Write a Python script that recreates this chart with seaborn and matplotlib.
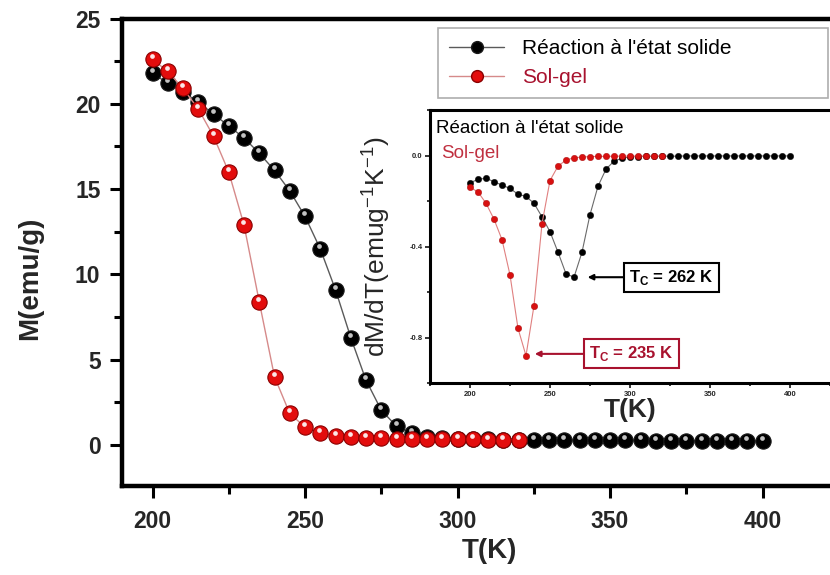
import numpy as np
import pandas as pd
import matplotlib
matplotlib.use('Agg')
import matplotlib.pyplot as plt
import matplotlib.transforms as mtransforms
from matplotlib.lines import Line2D
from matplotlib.ticker import MultipleLocator, FixedLocator, FixedFormatter
import seaborn as sns

# ---------------- data ----------------
T_solid = [200, 205, 210, 215, 220, 225, 230, 235, 240, 245, 250, 255, 260, 265, 270,
           275, 280, 285, 290, 295, 300, 305, 310, 315, 320, 325, 330, 335, 340, 345,
           350, 355, 360, 365, 370, 375, 380, 385, 390, 395, 400]
M_solid = [21.8, 21.2, 20.7, 20.1, 19.4, 18.7, 18.0, 17.1, 16.1, 14.9, 13.4, 11.5, 9.1, 6.3, 3.8,
           2.05, 1.1, 0.7, 0.5, 0.42, 0.38, 0.35, 0.33, 0.32, 0.31, 0.3, 0.3, 0.29, 0.29, 0.28,
           0.28, 0.27, 0.27, 0.26, 0.26, 0.25, 0.25, 0.25, 0.24, 0.24, 0.24]
T_solgel = [200, 205, 210, 215, 220, 225, 230, 235, 240, 245, 250, 255, 260, 265, 270,
            275, 280, 285, 290, 295, 300, 305, 310, 315, 320]
M_solgel = [22.6, 21.9, 20.9, 19.7, 18.1, 16.0, 12.9, 8.4, 4.0, 1.85, 1.05, 0.72, 0.55, 0.47, 0.42,
            0.39, 0.37, 0.36, 0.35, 0.34, 0.33, 0.33, 0.32, 0.32, 0.31]
dMdT_solid = [-0.12, -0.105, -0.10, -0.115, -0.13, -0.145, -0.17, -0.18, -0.21, -0.27, -0.335,
              -0.425, -0.52, -0.535, -0.425, -0.26, -0.135, -0.06, -0.025, -0.012, -0.006,
              -0.005, -0.004, -0.004, -0.003, -0.003, -0.003, -0.002, -0.002, -0.002, -0.002,
              -0.002, -0.002, -0.002, -0.002, -0.002, -0.002, -0.002, -0.002, -0.002, -0.002]
dMdT_solgel = [-0.14, -0.16, -0.21, -0.28, -0.37, -0.525, -0.76, -0.88, -0.66, -0.30, -0.11,
               -0.047, -0.02, -0.01, -0.007, -0.005, -0.004, -0.004, -0.003, -0.003, -0.003,
               -0.002, -0.002, -0.002, -0.002]
series_labels = ["Réaction à l'état solide", "Sol-gel"]
main_xticks = [200, 250, 300, 350, 400]
main_yticks = [0, 5, 10, 15, 20, 25]
inset_xticks = [200, 250, 300, 350, 400]
inset_yticks = [0.0, -0.4, -0.8]
inset_yticklabels = ["0.0", "-0.4", "-0.8"]
tc_solid = 262
tc_solgel = 235

# ---------------- style ----------------
sns.set_style('ticks')
plt.rcParams['font.family'] = ['Liberation Sans', 'DejaVu Sans']
plt.rcParams['mathtext.fontset'] = 'custom'
plt.rcParams['mathtext.rm'] = 'Liberation Sans'
plt.rcParams['mathtext.bf'] = 'Liberation Sans:bold'
plt.rcParams['axes.unicode_minus'] = False

BLACK_LINE = '#5a5a5a'
RED = '#e30d0d'
RED_LINE = '#d68a8a'
DARK_RED = '#a8122e'

W, H = 830, 575
fig = plt.figure(figsize=(W / 100, H / 100), dpi=100)

# ---------------- main axes ----------------
ax = fig.add_axes([122 / W, 89 / H, 716.75 / W, 467.5 / H])
df_s = pd.DataFrame({'T': T_solid, 'M': M_solid})
df_g = pd.DataFrame({'T': T_solgel, 'M': M_solgel})
sns.lineplot(data=df_s, x='T', y='M', ax=ax, color=BLACK_LINE, lw=1.0, marker='o',
             markersize=11, markerfacecolor='black', markeredgecolor='#1a1a1a',
             markeredgewidth=0.8, estimator=None, sort=False, zorder=3)
sns.lineplot(data=df_g, x='T', y='M', ax=ax, color=RED_LINE, lw=1.0, marker='o',
             markersize=11, markerfacecolor=RED, markeredgecolor='#8a0000',
             markeredgewidth=0.8, estimator=None, sort=False, zorder=4)
hl = mtransforms.offset_copy(ax.transData, fig=fig, x=-1.0, y=3.0, units='dots')
ax.plot(T_solid, M_solid, ls='none', marker='o', ms=3.4, mfc='#d8d8d8', mec='none',
        alpha=0.9, transform=hl, zorder=3.5)
ax.plot(T_solgel, M_solgel, ls='none', marker='o', ms=3.4, mfc='white', mec='none',
        alpha=0.9, transform=hl, zorder=4.5)

ax.set_xlim(190, 425)
ax.set_ylim(-2.4, 25)
ax.xaxis.set_major_locator(FixedLocator(main_xticks))
ax.xaxis.set_minor_locator(MultipleLocator(25))
ax.yaxis.set_major_locator(FixedLocator(main_yticks))
ax.yaxis.set_minor_locator(MultipleLocator(2.5))
ax.tick_params(axis='both', which='major', direction='out', length=8.5, width=2.2,
               labelsize=16.5, color='black')
ax.tick_params(axis='both', which='minor', direction='out', length=5.5, width=2.2, color='black')
ax.tick_params(axis='x', which='major', pad=9)
ax.tick_params(axis='y', which='major', pad=7)
for lbl in ax.get_xticklabels() + ax.get_yticklabels():
    lbl.set_fontweight('bold')
for side in ['left', 'bottom', 'top']:
    ax.spines[side].set_linewidth(3.2)
    ax.spines[side].set_color('black')
ax.spines['right'].set_visible(False)
ax.set_xlabel('T(K)', fontsize=20, fontweight='bold')
ax.set_ylabel('M(emu/g)', fontsize=20, fontweight='bold')
ax.xaxis.set_label_coords(0.513, -0.112)
ax.yaxis.set_label_coords(-0.11, 0.444)

# legend
handles = [Line2D([0], [0], color=BLACK_LINE, lw=1.0, marker='o', ms=8.5,
                  mfc='black', mec='#1a1a1a'),
           Line2D([0], [0], color=RED_LINE, lw=1.0, marker='o', ms=8.5,
                  mfc=RED, mec='#8a0000')]
leg = ax.legend(handles, series_labels, loc='upper left',
                bbox_to_anchor=(438 / W, 1 - 28 / H, 390 / W, 0.0),
                bbox_transform=fig.transFigure, mode='expand', frameon=True,
                fancybox=False, edgecolor='#9a9a9a', fontsize=15, handlelength=2.6,
                handletextpad=0.9, borderpad=0.55, labelspacing=0.45, borderaxespad=0)
leg.get_frame().set_linewidth(1.2)
leg.get_texts()[0].set_color('black')
leg.get_texts()[1].set_color(DARK_RED)
leg.set_zorder(10)

# ---------------- inset ----------------
axi = fig.add_axes([430 / W, 192 / H, 400 / W, 273 / H])
axi.set_facecolor('white')
di_s = pd.DataFrame({'T': T_solid, 'd': dMdT_solid})
di_g = pd.DataFrame({'T': T_solgel, 'd': dMdT_solgel})
sns.lineplot(data=di_s, x='T', y='d', ax=axi, color='#6a6a6a', lw=0.8, marker='o',
             markersize=4.6, markerfacecolor='black', markeredgecolor='black',
             markeredgewidth=0.3, estimator=None, sort=False, zorder=3)
sns.lineplot(data=di_g, x='T', y='d', ax=axi, color='#e08080', lw=0.8, marker='o',
             markersize=4.6, markerfacecolor='#d81010', markeredgecolor='#a00000',
             markeredgewidth=0.3, estimator=None, sort=False, zorder=4)
axi.set_xlim(175, 425)
axi.set_ylim(-1.0, 0.2)
axi.xaxis.set_major_locator(FixedLocator(inset_xticks))
axi.xaxis.set_minor_locator(MultipleLocator(25))
axi.yaxis.set_major_locator(FixedLocator(inset_yticks))
axi.yaxis.set_major_formatter(FixedFormatter(inset_yticklabels))
axi.yaxis.set_minor_locator(MultipleLocator(0.2))
axi.tick_params(axis='both', which='major', direction='out', length=3.5, width=1.3,
                labelsize=5.5, pad=2)
axi.tick_params(axis='both', which='minor', direction='out', length=2.5, width=1.3)
for lbl in axi.get_xticklabels() + axi.get_yticklabels():
    lbl.set_fontweight('bold')
for side in ['left', 'bottom', 'top']:
    axi.spines[side].set_linewidth(2.2)
    axi.spines[side].set_color('black')
axi.spines['right'].set_visible(False)
axi.set_xlabel('T(K)', fontsize=19, fontweight='bold')
axi.set_ylabel('dM/dT(emug$^{\\mathregular{-1}}$K$^{\\mathregular{-1}}$)', fontsize=19)
axi.xaxis.set_label_coords(0.5, -0.055)
axi.yaxis.set_label_coords(-0.095, 0.5)

axi.text(0.015, 0.934, series_labels[0], transform=axi.transAxes, fontsize=13.5,
         color='black', va='center', ha='left')
axi.text(0.0275, 0.842, series_labels[1], transform=axi.transAxes, fontsize=13.5,
         color='#c03040', va='center', ha='left')

axi.annotate('T$_{\\mathbf{C}}$ = %d K' % tc_solid, xy=(273.5, -0.535),
             xytext=(299.5, -0.535), fontsize=12, fontweight='bold', color='black',
             ha='left', va='center',
             bbox=dict(boxstyle='square,pad=0.3', fc='white', ec='black', lw=1.5),
             arrowprops=dict(arrowstyle='-|>', color='black', lw=1.5, mutation_scale=8,
                             shrinkA=0, shrinkB=0))
axi.annotate('T$_{\\mathbf{C}}$ = %d K' % tc_solgel, xy=(240.5, -0.872),
             xytext=(274.5, -0.872), fontsize=12, fontweight='bold', color=DARK_RED,
             ha='left', va='center',
             bbox=dict(boxstyle='square,pad=0.3', fc='white', ec=DARK_RED, lw=1.5),
             arrowprops=dict(arrowstyle='-|>', color=DARK_RED, lw=1.5, mutation_scale=8,
                             shrinkA=0, shrinkB=0))

fig.savefig('out.png', dpi=100)
